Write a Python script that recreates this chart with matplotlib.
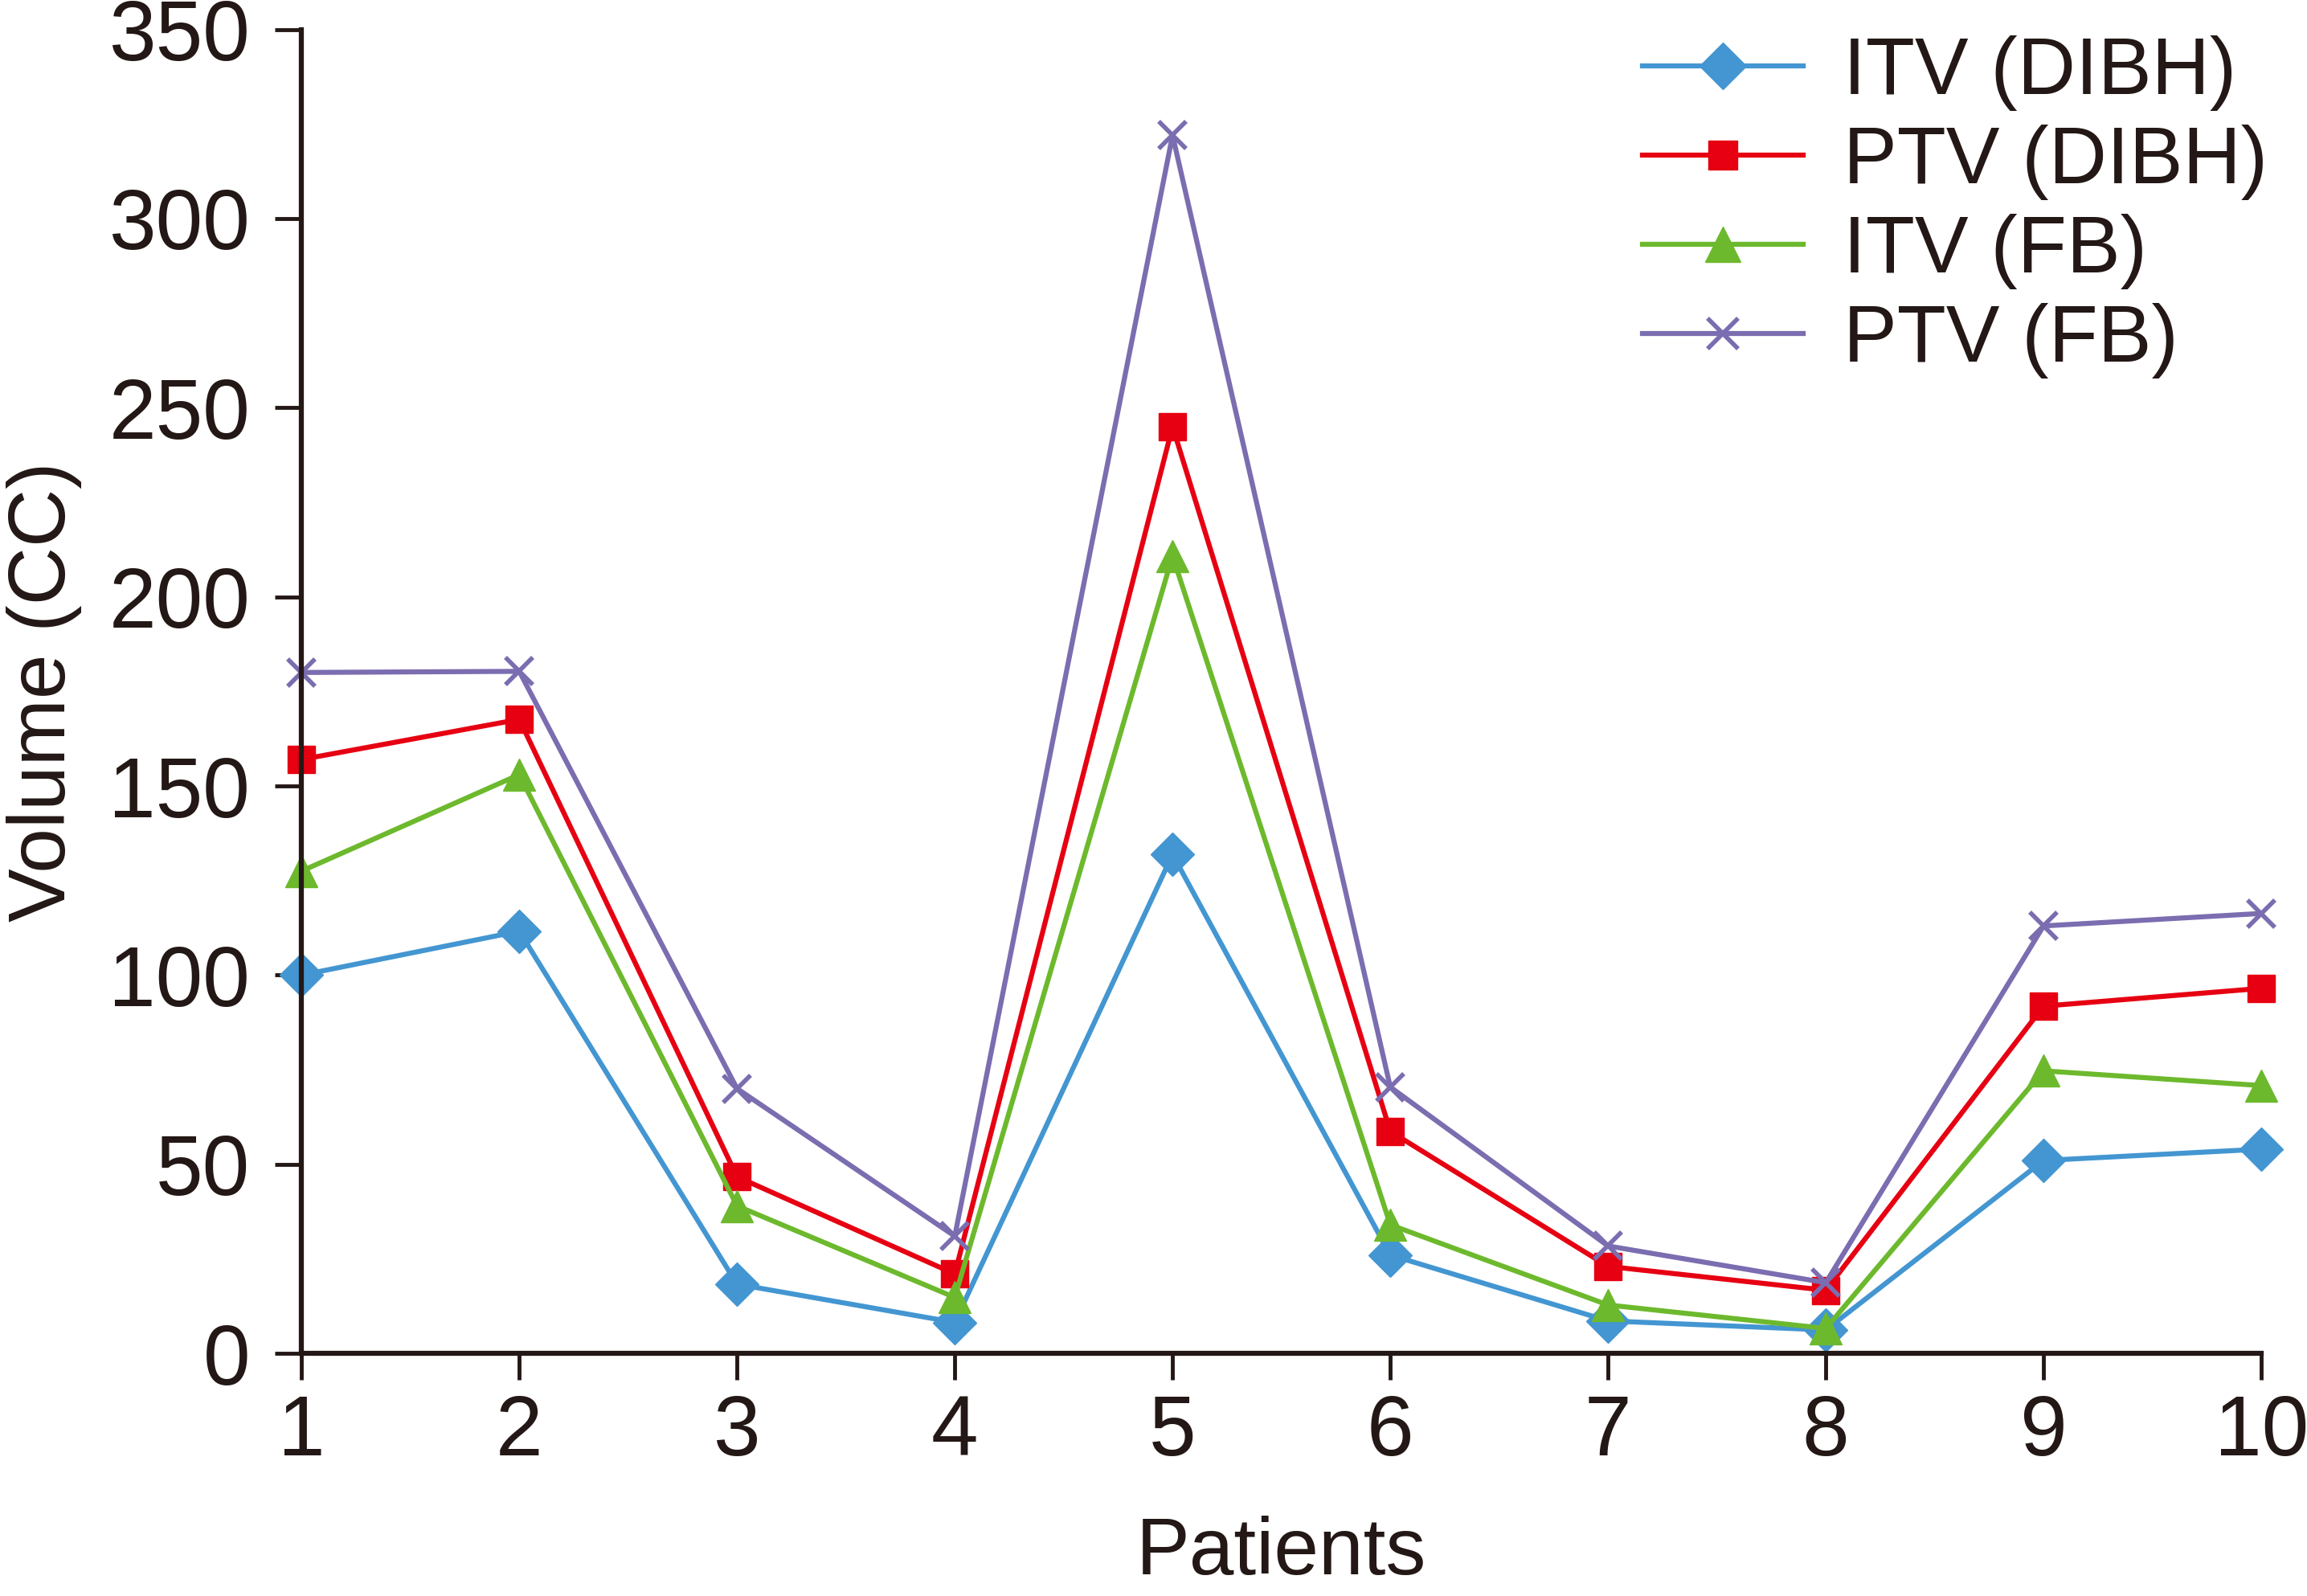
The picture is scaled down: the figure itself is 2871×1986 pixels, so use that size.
import matplotlib.pyplot as plt

plt.rcParams['font.family'] = ['Liberation Sans', 'DejaVu Sans']

patients = [1, 2, 3, 4, 5, 6, 7, 8, 9, 10]
itv_dibh = [100, 111.6, 18.3, 8.2, 131.9, 26, 8.6, 6.2, 51, 54]
ptv_dibh = [157, 167.6, 46.7, 21, 245, 58.7, 23, 16.7, 91.8, 96.5]
itv_fb = [127.5, 153, 39, 14.8, 210.8, 34, 12.8, 6.6, 74.7, 70.8]
ptv_fb = [180, 180.3, 70, 31, 322, 70.4, 28.4, 18.7, 113, 116.3]

text_col = '#231815'

fig = plt.figure(figsize=(28.71, 19.86), dpi=100)
ax = fig.add_axes([0.1307, 0.152, 0.8495, 0.8296])

ax.plot(patients, itv_dibh, color='#4396d1', lw=4.5, marker='D', ms=27,
        label='ITV (DIBH)', clip_on=False)
ax.plot(patients, ptv_dibh, color='#e60012', lw=4.5, marker='s', ms=24,
        label='PTV (DIBH)', clip_on=False)
ax.plot(patients, itv_fb, color='#6db92d', lw=4.5, marker='^', ms=29,
        label='ITV (FB)', clip_on=False)
ax.plot(patients, ptv_fb, color='#7b6db0', lw=4.5, marker='x', ms=25, mew=4,
        label='PTV (FB)', clip_on=False)

ax.set_xlim(1, 10)
ax.set_ylim(0, 350)
ax.set_xticks(patients)
ax.set_yticks(range(0, 351, 50))
for s in ['top', 'right']:
    ax.spines[s].set_visible(False)
for s in ['left', 'bottom']:
    ax.spines[s].set_linewidth(4.5)
    ax.spines[s].set_color(text_col)
ax.tick_params(direction='out', length=24, width=3.5, colors=text_col,
               labelsize=76)
ax.tick_params(axis='y', pad=22)
ax.tick_params(axis='x', pad=12)

ax.set_xlabel('Patients', fontsize=72, color=text_col, labelpad=38)
ax.set_ylabel('Volume (CC)', fontsize=72, color=text_col, labelpad=24)

leg = ax.legend(loc='upper right', bbox_to_anchor=(1.04, 1.05), frameon=False,
                fontsize=72, handlelength=2.0, handletextpad=0.5,
                labelspacing=0.17, markerscale=1.1)
for t in leg.get_texts():
    t.set_color(text_col)

fig.savefig('out.png', dpi=100)
